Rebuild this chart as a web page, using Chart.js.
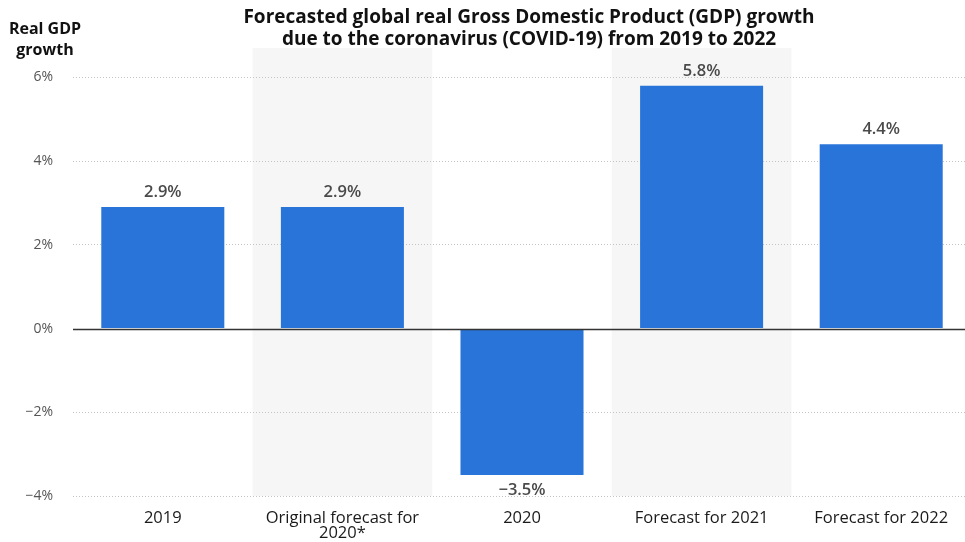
<!DOCTYPE html>
<html>
<head>
<meta charset="utf-8">
<script src="https://cdn.jsdelivr.net/npm/chart.js@4"></script>
<style>
html,body{margin:0;padding:0;background:#fff;overflow:hidden;}
#wrap{width:971px;height:542px;position:relative;}
</style>
</head>
<body>
<div id="wrap"><canvas id="c"></canvas></div>
<script>
const categories = ['2019', ['Original forecast for', '2020*'], '2020', 'Forecast for 2021', 'Forecast for 2022'];
const gdpGrowth = [2.9, 2.9, -3.5, 5.8, 4.4];
const yTickValues = [-4, -2, 0, 2, 4, 6];
const titleLines = ['Forecasted global real Gross Domestic Product (GDP) growth', 'due to the coronavirus (COVID-19) from 2019 to 2022'];
const yTitleLines = ['Real GDP', 'growth'];
const shadedIdx = [1, 3];

const FONT = "'Open Sans', 'DejaVu Sans', sans-serif";
const fmt = v => (v < 0 ? '\u2212' + Math.abs(v).toFixed(1) : v.toFixed(1)) + '%';

const decor = {
  id: 'decor',
  beforeDraw(chart) {
    const {ctx, chartArea, scales} = chart;
    const x = scales.x, y = scales.y;
    const w = (x.right - x.left) / categories.length;
    ctx.save();
    ctx.fillStyle = '#f6f6f6';
    shadedIdx.forEach(i => {
      const cx = x.getPixelForValue(i);
      ctx.fillRect(cx - w / 2, chartArea.top, w, y.getPixelForValue(-4) - chartArea.top);
    });
    ctx.restore();
  },
  afterDatasetsDraw(chart) {
    const {ctx, chartArea, scales} = chart;
    const y = scales.y;
    ctx.save();
    const y0 = Math.round(y.getPixelForValue(0)) + 0.5;
    ctx.strokeStyle = '#333';
    ctx.lineWidth = 1.3;
    ctx.beginPath();
    ctx.moveTo(chartArea.left, y0);
    ctx.lineTo(chartArea.right, y0);
    ctx.stroke();
    // value labels
    const meta = chart.getDatasetMeta(0);
    ctx.font = "600 16.5px " + FONT;
    ctx.fillStyle = '#4a4a4a';
    ctx.textAlign = 'center';
    meta.data.forEach((bar, i) => {
      const v = gdpGrowth[i];
      if (v >= 0) {
        ctx.textBaseline = 'alphabetic';
        ctx.fillText(fmt(v), bar.x, bar.y - 10);
      } else {
        ctx.textBaseline = 'top';
        ctx.fillText(fmt(v), bar.x, bar.y + 7);
      }
    });
    // titles
    ctx.fillStyle = '#111';
    ctx.font = "bold 19px " + FONT;
    ctx.textBaseline = 'middle';
    titleLines.forEach((t, i) => ctx.fillText(t, 529, 18 + i * 22));
    ctx.font = "bold 16px " + FONT;
    yTitleLines.forEach((t, i) => ctx.fillText(t, 45, 29 + i * 21));
    ctx.restore();
  }
};

new Chart(document.getElementById('c'), {
  type: 'bar',
  data: {
    labels: categories,
    datasets: [{
      data: gdpGrowth,
      backgroundColor: '#2874d9',
      borderWidth: 0,
      barPercentage: 0.685,
      categoryPercentage: 1
    }]
  },
  options: {
    responsive: true,
    maintainAspectRatio: false,
    animation: false,
    layout: {padding: {top: 48, bottom: 3, left: 0, right: 0}},
    plugins: {legend: {display: false}, tooltip: {enabled: false}, title: {display: false}},
    scales: {
      x: {
        afterFit: s => { s.height = 43; },
        grid: {display: false},
        border: {display: false},
        ticks: {
          color: '#1a1a1a',
          font: {family: FONT, size: 16.5, lineHeight: 0.95},
          padding: 6,
          maxRotation: 0,
          autoSkip: false
        }
      },
      y: {
        min: -4,
        max: 6.7,
        afterBuildTicks: s => { s.ticks = yTickValues.map(v => ({value: v})); },
        afterFit: s => { s.width = 73; },
        grid: {
          color: c => (c.tick && c.tick.value === 0) ? 'rgba(0,0,0,0)' : '#c4c4c4',
          drawTicks: false,
          lineWidth: 1
        },
        border: {display: false, dash: [1, 2]},
        ticks: {
          color: '#555',
          font: {family: FONT, size: 14},
          padding: 20,
          callback: v => (v < 0 ? '\u2212' + Math.abs(v) : v) + '%'
        }
      }
    }
  },
  plugins: [decor]
});
</script>
</body>
</html>
